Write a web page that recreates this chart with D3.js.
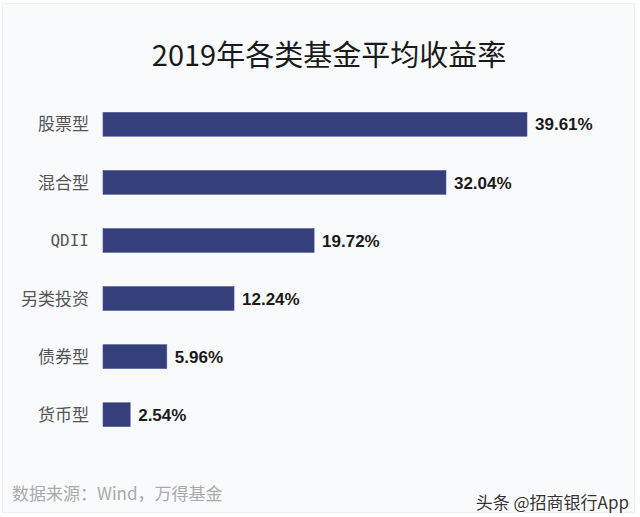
<!DOCTYPE html>
<html>
<head>
<meta charset="utf-8">
<script src="https://cdn.jsdelivr.net/npm/d3@7"></script>
<style>
  body { margin: 0; background: #ffffff; }
  svg { display: block; }
</style>
</head>
<body>
<svg id="chart"></svg>
<script>
// Data
const categories = ['股票型', '混合型', 'QDII', '另类投资', '债券型', '货币型'];
const values = [39.61, 32.04, 19.72, 12.24, 5.96, 2.54];
const valueLabels = ['39.61%', '32.04%', '19.72%', '12.24%', '5.96%', '2.54%'];

const width = 640;
const height = 517;
const cjk = '"Noto Sans CJK SC", "Noto Sans", sans-serif';

const svg = d3.select('#chart')
    .attr('width', width)
    .attr('height', height);

// Card background
svg.append('rect')
    .attr('x', 2.5).attr('y', 3.5)
    .attr('width', 632).attr('height', 509)
    .attr('fill', '#f9fafc')
    .attr('stroke', '#eef0f3');

// Title
svg.append('text')
    .attr('x', 329)
    .attr('y', 66)
    .attr('text-anchor', 'middle')
    .attr('font-family', cjk)
    .attr('font-size', 29)
    .attr('fill', '#1a1a1a')
    .text('2019年各类基金平均收益率');

// Scales
const x = d3.scaleLinear()
    .domain([0, 39.61])
    .range([103, 527]);

const y = d3.scaleBand()
    .domain(categories)
    .range([95, 444])
    .paddingInner(0.59)
    .paddingOuter(0.3);

// Bars
svg.append('g')
    .selectAll('rect')
    .data(values)
    .join('rect')
    .attr('x', x(0))
    .attr('y', (d, i) => y(categories[i]))
    .attr('width', d => x(d) - x(0))
    .attr('height', y.bandwidth())
    .attr('fill', '#343f7b')
    .attr('stroke', '#4a5590')
    .attr('stroke-width', 0.6);

// Category labels
svg.append('g')
    .selectAll('text')
    .data(categories)
    .join('text')
    .attr('x', 89)
    .attr('y', d => y(d) + y.bandwidth() / 2)
    .attr('dy', '0.36em')
    .attr('text-anchor', 'end')
    .attr('font-family', d => d === 'QDII' ? '"DejaVu Sans Mono", monospace' : cjk)
    .attr('font-size', d => d === 'QDII' ? 16 : 17)
    .attr('fill', '#555555')
    .text(d => d);

// Value labels
svg.append('g')
    .selectAll('text')
    .data(values)
    .join('text')
    .attr('x', d => x(d) + 8)
    .attr('y', (d, i) => y(categories[i]) + y.bandwidth() / 2)
    .attr('dy', '0.36em')
    .attr('font-family', '"Liberation Sans", Arial, sans-serif')
    .attr('font-weight', 'bold')
    .attr('font-size', 17)
    .attr('fill', '#1a1a1a')
    .text((d, i) => valueLabels[i]);

// Source note
svg.append('text')
    .attr('x', 12)
    .attr('y', 500)
    .attr('font-family', cjk)
    .attr('font-size', 17)
    .attr('fill', '#aaaaaa')
    .text('数据来源：Wind，万得基金');

// Watermark
svg.append('text')
    .attr('x', 629)
    .attr('y', 509)
    .attr('text-anchor', 'end')
    .attr('font-family', cjk)
    .attr('font-size', 17)
    .attr('fill', '#333333')
    .attr('stroke', '#ffffff')
    .attr('stroke-width', 2)
    .attr('paint-order', 'stroke')
    .text('头条 @招商银行App');
</script>
</body>
</html>
